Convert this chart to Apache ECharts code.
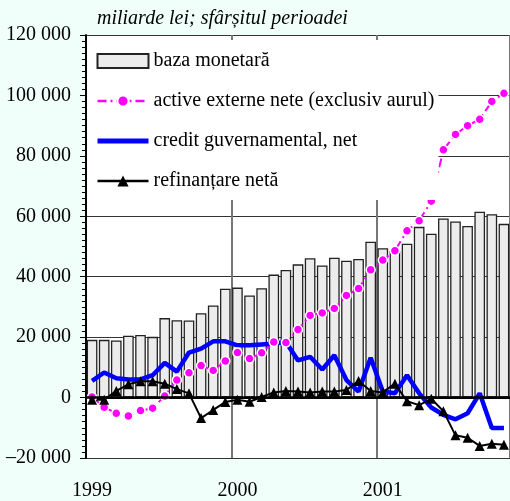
<!DOCTYPE html>
<html>
<head>
<meta charset="utf-8">
<script src="https://cdn.jsdelivr.net/npm/echarts@6/dist/echarts.min.js"></script>
<style>
  html, body { margin: 0; padding: 0; background: #F0FFFA; }
  #chart { width: 510px; height: 501px; }
</style>
</head>
<body>
<div id="chart"></div>
<script>
// luni: ian 1999 - nov 2001
const months = [];
['1999', '2000', '2001'].forEach(function (y) {
  for (let m = 1; m <= 12; m++) months.push(y + '-' + (m < 10 ? '0' + m : m));
});
months.length = 35;

const bazaMonetara = [19100, 19100, 18900, 20500, 20700, 20100, 26300, 25600, 25500, 27900, 30500, 36000,
  36400, 33800, 36200, 40700, 42200, 44100, 46100, 43700, 46300, 45300, 45900, 51600,
  49400, 48500, 50900, 56500, 54200, 59300, 58300, 56800, 61500, 60700, 57500];

const activeExterne = [200, -3200, -5200, -6100, -4300, -3500, 500, 5800, 8200, 10600, 9000, 12100,
  14900, 12900, 14800, 18400, 18200, 22500, 27200, 28000, 29500, 33800, 36100, 42300,
  45500, 48600, 55200, 58500, 65000, 82000, 87100, 90000, 92100, 98000, 100700];

const creditGuv = [5500, 8300, 6400, 6000, 6000, 7400, 11500, 8600, 14900, 16200, 18600, 18600,
  17300, 17300, 17600, 17900, 18400, 12300, 13500, 9300, 14000, 5800, 2000, 13200,
  2000, 1400, 7400, 1400, -3300, -5700, -7200, -5200, 1400, -10100, -10100];

const refinantare = [-700, -700, 2200, 4400, 5400, 5400, 4600, 2800, 1400, -6800, -4100, -1500,
  -700, -1400, 200, 1700, 2200, 2000, 1700, 2000, 2000, 2500, 5500, 2200,
  1700, 4600, -1200, -2500, -400, -4500, -12500, -13300, -16000, -15300, -15600];

const FONT = 'Liberation Serif';

function fmtY(v) {
  const a = Math.abs(v);
  const s = a >= 1000 ? Math.floor(a / 1000) + ' ' + String(a % 1000).padStart(3, '0') : String(a);
  return (v < 0 ? '\u2013' : '') + s;
}

const chart = echarts.init(document.getElementById('chart'));
chart.setOption({
  backgroundColor: '#F0FFFA',
  animation: false,
  title: {
    text: 'miliarde lei; sfârșitul perioadei',
    left: 97, top: 9, padding: 0,
    textStyle: { fontFamily: FONT, fontStyle: 'italic', fontWeight: 'normal', fontSize: 20, color: '#000' }
  },
  legend: {
    orient: 'vertical',
    left: 87, top: 40,
    backgroundColor: '#fff',
    padding: [11, 4, 9, 8],
    itemWidth: 51, itemHeight: 14, itemGap: 20,
    textStyle: { fontFamily: FONT, fontSize: 20, color: '#000', lineHeight: 14 },
    data: [
      { name: 'baza monetară', icon: 'rect' },
      { name: 'active externe nete (exclusiv aurul)', lineStyle: { width: 2.5 } },
      // no marker on this line, only the thick stroke
      { name: 'credit guvernamental, net', itemStyle: { opacity: 0 }, lineStyle: { width: 5 } },
      { name: 'refinanțare netă', lineStyle: { width: 2.5 } }
    ]
  },
  grid: {
    left: 86, right: 0, top: 35, bottom: 41,
    show: true, backgroundColor: '#fff', borderWidth: 0
  },
  xAxis: {
    type: 'category',
    data: months,
    boundaryGap: true,
    axisLine: { lineStyle: { color: '#000', width: 2 } },
    axisTick: { show: false },
    axisLabel: {
      interval: function (i) { return i % 12 === 0; },
      formatter: function (v) { return v.slice(0, 4); },
      fontFamily: FONT, fontSize: 20, color: '#000', margin: 23
    },
    splitLine: {
      show: true,
      interval: function (i) { return i > 0 && i % 12 === 0; },
      lineStyle: { color: '#777', width: 2 }
    }
  },
  yAxis: {
    type: 'value',
    min: -20000, max: 120000, interval: 20000,
    axisLine: { show: true, lineStyle: { color: '#000', width: 2 } },
    axisTick: { show: true, length: 6, lineStyle: { color: '#000' } },
    minorTick: { show: true, splitNumber: 10, length: 4, lineStyle: { color: '#000' } },
    splitLine: { show: true, lineStyle: { color: '#333', width: 1 } },
    axisLabel: { formatter: fmtY, fontFamily: FONT, fontSize: 20, color: '#000', margin: 15 }
  },
  series: [
    {
      name: 'baza monetară',
      type: 'bar',
      data: bazaMonetara,
      barCategoryGap: '12%',
      itemStyle: { color: '#ECECEC', borderColor: '#222', borderWidth: 1.3 },
      markLine: {
        silent: true, symbol: ['none', 'none'], label: { show: false },
        lineStyle: { color: '#000', width: 2.5, type: 'solid' },
        data: [{ yAxis: 0 }]
      }
    },
    {
      name: 'active externe nete (exclusiv aurul)',
      type: 'line',
      data: activeExterne,
      symbol: 'circle', symbolSize: 9, showAllSymbol: true,
      lineStyle: { color: '#FF00FF', width: 2, type: [9, 4, 2, 4] },
      itemStyle: { color: '#FF00FF', borderColor: '#fff', borderWidth: 1.5 }
    },
    {
      name: 'credit guvernamental, net',
      type: 'line',
      data: creditGuv,
      symbol: 'none',
      lineStyle: { color: '#0000FF', width: 4.5 },
      itemStyle: { color: '#0000FF' }
    },
    {
      name: 'refinanțare netă',
      type: 'line',
      data: refinantare,
      symbol: 'triangle', symbolSize: 10, showAllSymbol: true,
      lineStyle: { color: '#000', width: 2 },
      itemStyle: { color: '#000' }
    }
  ]
});
</script>
</body>
</html>
